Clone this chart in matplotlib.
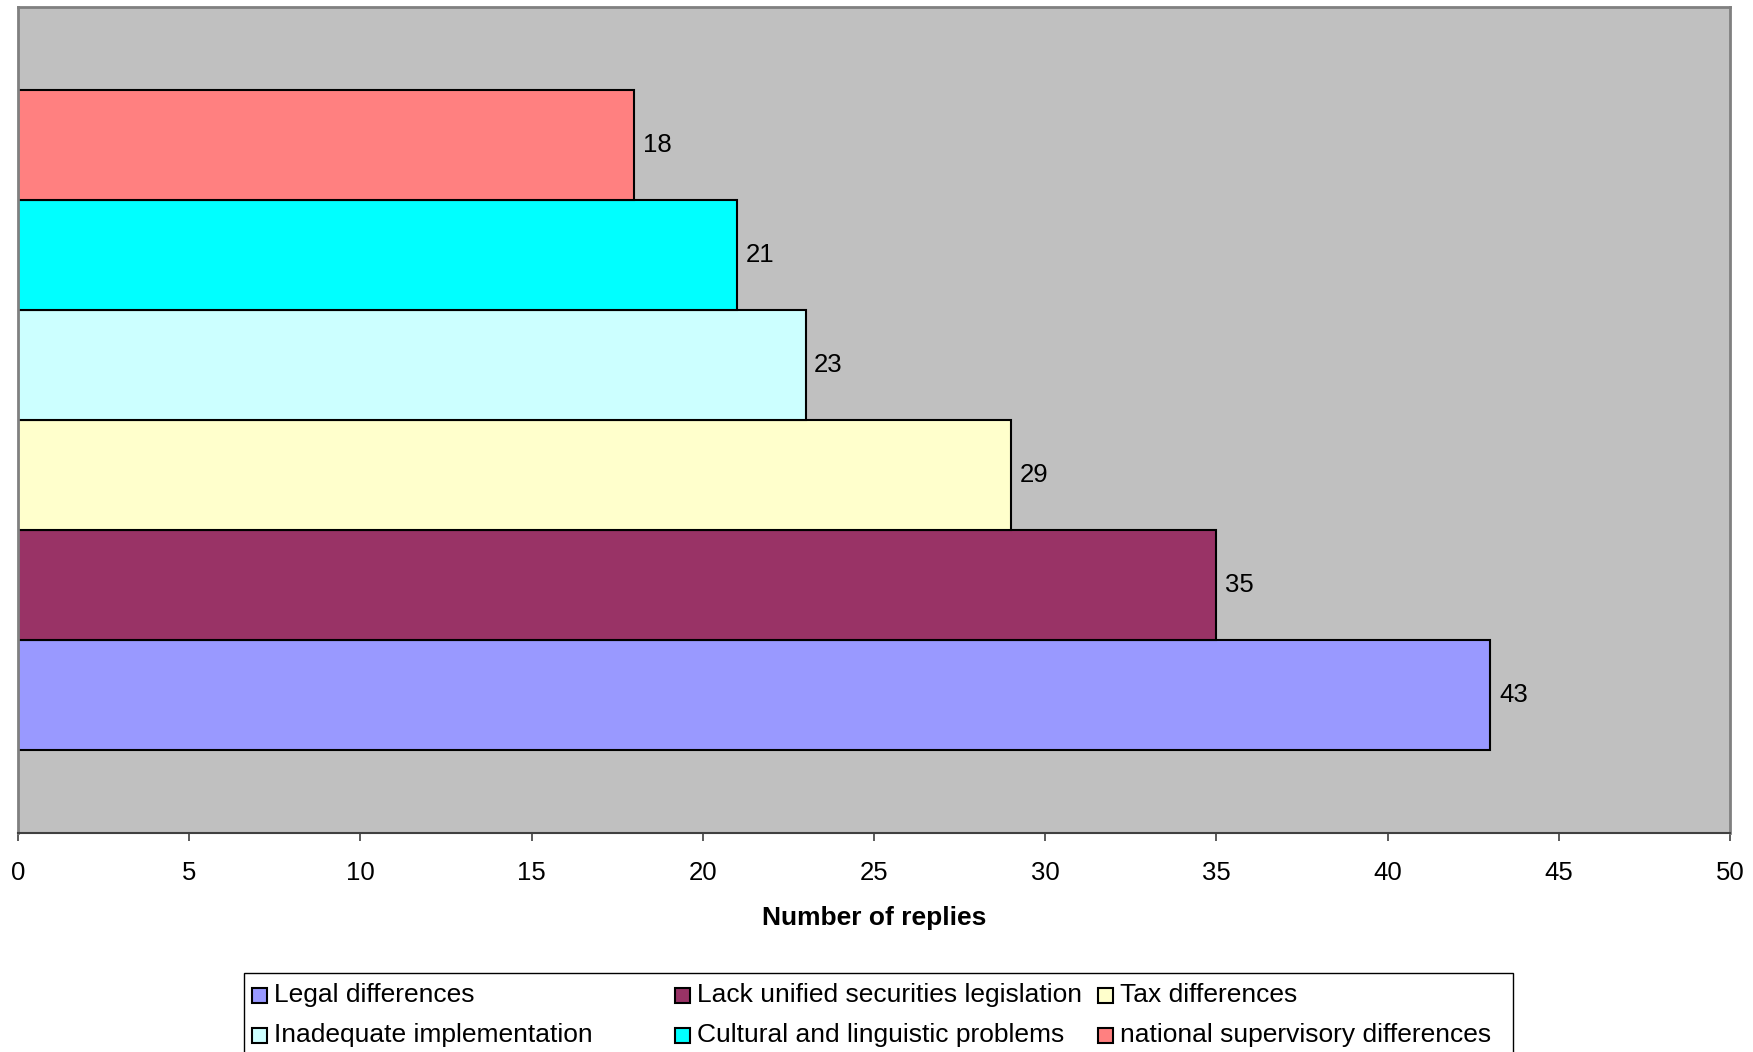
import matplotlib.pyplot as plt
from matplotlib.patches import Rectangle

plt.rcParams['font.family'] = ['Liberation Sans', 'DejaVu Sans']

# Survey replies per obstacle (bottom to top)
categories = ["Legal differences", "Lack unified securities legislation", "Tax differences",
              "Inadequate implementation", "Cultural and linguistic problems",
              "national supervisory differences"]
replies = [43, 35, 29, 23, 21, 18]
colors = ["#9999FF", "#993366", "#FFFFCC", "#CCFFFF", "#00FFFF", "#FF8080"]
xticks = [0, 5, 10, 15, 20, 25, 30, 35, 40, 45, 50]

W, H = 1753, 1052
fig = plt.figure(figsize=(W / 100, H / 100), dpi=100)
ax = fig.add_axes([0.0103, 0.2082, 0.9766, 0.7847])
ax.set_facecolor("#C0C0C0")

for i, (cat, val, col) in enumerate(zip(categories, replies, colors)):
    ax.barh(i, val, height=1.0, color=col, edgecolor="black", linewidth=1.5, label=cat)
    ax.text(val + 0.25, i, str(val), va="center", ha="left", fontsize=18.5)

ax.set_xlim(0, 50)
ax.set_ylim(-1.25, 6.25)
ax.set_xticks(xticks)
ax.set_yticks([])
ax.tick_params(axis="x", length=6, width=1.2, color="#404040", labelsize=18.5, pad=14)

for side in ["top", "right", "left"]:
    ax.spines[side].set_color("#808080")
    ax.spines[side].set_linewidth(2)
ax.spines["bottom"].set_color("#404040")
ax.spines["bottom"].set_linewidth(1.5)

ax.set_xlabel("Number of replies", fontsize=19, fontweight="bold", labelpad=15)

# legend box with equal-width columns, filled row by row (pixel layout);
# the box runs past the bottom edge of the figure
box_l, box_r, box_t = 244, 1513, 973
fig.patches.append(Rectangle((box_l / W, -20 / H), (box_r - box_l) / W, (H + 20 - box_t) / H,
                             transform=fig.transFigure, facecolor="white", edgecolor="black",
                             linewidth=1.0, zorder=1))
col_w = 423
row_y = [995, 1035]
sq = 15
for k, (cat, col) in enumerate(zip(categories, colors)):
    r, c = divmod(k, 3)
    x = box_l + 8 + c * col_w
    y = row_y[r]
    fig.patches.append(Rectangle((x / W, 1 - (y + sq / 2) / H), sq / W, sq / H,
                                 transform=fig.transFigure, facecolor=col,
                                 edgecolor="black", linewidth=1.5, zorder=2))
    fig.text((x + sq + 7) / W, 1 - y / H, cat, fontsize=19, va="center", ha="left", zorder=3)

fig.savefig("out.png", dpi=100, facecolor="white")
